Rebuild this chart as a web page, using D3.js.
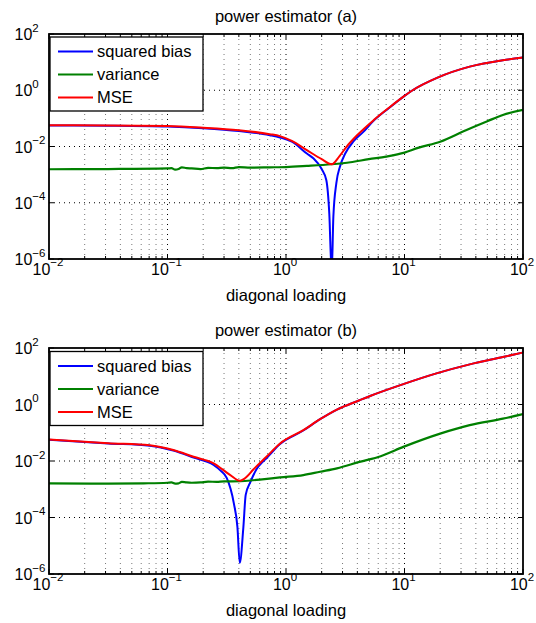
<!DOCTYPE html>
<html>
<head>
<meta charset="utf-8">
<script src="https://cdn.jsdelivr.net/npm/d3@7"></script>
<style>
  body { margin: 0; background: #fff; }
  text { font-family: "Liberation Sans", Arial, Helvetica, sans-serif; fill: #000; }
</style>
</head>
<body>
<script>
// two panels, log-log, squared bias / variance / MSE vs diagonal loading

var seriesNames = ['squared bias', 'variance', 'MSE'];
var seriesColors = ['#0000ff', '#008000', '#ff0000'];
var xTickExps = [-2, -1, 0, 1, 2];
var yTickExps = [-6, -4, -2, 0, 2];

// panel (a)
var loadBiasA = [0.01, 0.0316, 0.1, 0.2, 0.4, 0.73, 0.89, 1.12, 1.5, 1.7, 2.0, 2.19, 2.32, 2.43, 2.51, 2.66, 2.86, 3.16, 3.72, 4.47, 5.5, 7.4, 10, 11.7, 19, 35.5, 67.6, 100];
var biasA = [0.0562, 0.055, 0.0513, 0.0447, 0.0355, 0.0251, 0.0209, 0.0148, 0.00562, 0.0038, 0.00158, 0.00063, 0.0000398, 3.2e-7, 0.0000316, 0.0005, 0.002, 0.00562, 0.0155, 0.0324, 0.0832, 0.234, 0.631, 1.0, 2.82, 6.92, 11.7, 14.5];

var loadVarA = [0.01, 0.0316, 0.1, 0.108, 0.116, 0.124, 0.132, 0.145, 0.16, 0.19, 0.22, 0.26, 0.3, 0.35, 0.4, 0.5, 0.73, 1.0, 1.5, 2.43, 3.5, 5.0, 7.0, 10, 13, 20, 33, 50, 67.6, 100];
var varA = [0.00155, 0.00158, 0.00166, 0.0017, 0.00151, 0.00158, 0.00182, 0.0017, 0.00166, 0.00158, 0.00174, 0.0017, 0.00178, 0.0017, 0.00186, 0.00178, 0.00182, 0.00186, 0.00204, 0.00234, 0.00275, 0.00355, 0.00437, 0.00603, 0.00891, 0.0148, 0.038, 0.0794, 0.132, 0.2];

var loadMseA = [0.01, 0.0316, 0.1, 0.2, 0.4, 0.73, 0.89, 1.12, 1.5, 2.0, 2.43, 2.82, 3.24, 3.98, 5.5, 7.4, 10, 11.7, 19, 35.5, 67.6, 100];
var mseA = [0.0575, 0.0562, 0.0537, 0.0468, 0.038, 0.0275, 0.0234, 0.0158, 0.00741, 0.00355, 0.00234, 0.00447, 0.00977, 0.0251, 0.0871, 0.24, 0.631, 1.0, 2.82, 6.92, 11.7, 14.5];

// panel (b)
var loadBiasB = [0.01, 0.0316, 0.0708, 0.112, 0.166, 0.245, 0.282, 0.316, 0.363, 0.389, 0.407, 0.437, 0.457, 0.5, 0.562, 0.646, 0.684, 0.891, 1.4, 1.94, 2.69, 4.17, 5.13, 9.77, 18.6, 35.5, 67.6, 100];
var biasB = [0.0562, 0.0417, 0.0347, 0.0234, 0.0132, 0.00724, 0.00447, 0.00251, 0.000316, 0.0000468, 0.0000025, 0.0000468, 0.00063, 0.00178, 0.00501, 0.01, 0.0126, 0.0398, 0.12, 0.302, 0.661, 1.41, 2.0, 5.25, 12.6, 26.3, 47.9, 69.2];

var loadVarB = [0.01, 0.0316, 0.063, 0.1, 0.108, 0.116, 0.124, 0.132, 0.145, 0.16, 0.19, 0.22, 0.26, 0.3, 0.35, 0.5, 0.63, 0.89, 1.4, 1.94, 2.69, 4.17, 6.3, 9.77, 20, 35.5, 67.6, 100];
var varB = [0.00162, 0.00158, 0.00162, 0.0017, 0.00174, 0.00158, 0.00162, 0.00182, 0.00174, 0.0017, 0.00174, 0.00186, 0.00182, 0.0019, 0.0019, 0.00204, 0.00224, 0.00263, 0.00316, 0.00417, 0.0055, 0.00933, 0.0148, 0.0316, 0.0933, 0.186, 0.316, 0.457];

var loadMseB = [0.01, 0.0316, 0.0708, 0.112, 0.166, 0.245, 0.339, 0.407, 0.468, 0.525, 0.684, 0.891, 1.4, 1.94, 2.69, 4.17, 5.13, 9.77, 18.6, 35.5, 67.6, 100];
var mseB = [0.0575, 0.0427, 0.0363, 0.0245, 0.0141, 0.00832, 0.00316, 0.002, 0.00282, 0.00479, 0.0141, 0.0417, 0.123, 0.302, 0.661, 1.41, 2.0, 5.25, 12.6, 26.3, 47.9, 69.2];

var WIDTH = 536;
var HEIGHT = 623;
var LEFT = 49, RIGHT = 523;

var svg = d3.select('body').append('svg')
  .attr('width', WIDTH)
  .attr('height', HEIGHT);

var panels = [
  {title: 'power estimator (a)', top: 34, bottom: 259, legendTop: 37,
   data: [[loadBiasA, biasA], [loadVarA, varA], [loadMseA, mseA]]},
  {title: 'power estimator (b)', top: 348, bottom: 574, legendTop: 351.5,
   data: [[loadBiasB, biasB], [loadVarB, varB], [loadMseB, mseB]]}
];

function supLabel(sel, e) {
  sel.append('tspan').text('10');
  sel.append('tspan')
    .attr('dy', -8.5)
    .style('font-size', '11.5px')
    .text(e < 0 ? '\u2212' + (-e) : String(e));
}

panels.forEach(function(p, i) {
  var x = d3.scaleLog().domain([1e-2, 1e2]).range([LEFT, RIGHT]);
  var y = d3.scaleLog().domain([1e-6, 1e2]).range([p.bottom, p.top]);
  var g = svg.append('g');

  // grid
  var xt = x.ticks();
  g.selectAll('.vgrid').data(xt.filter(function(d) { return d > 1e-2 && d < 1e2; }))
    .enter().append('line')
    .attr('x1', function(d) { return x(d); })
    .attr('x2', function(d) { return x(d); })
    .attr('y1', p.top).attr('y2', p.bottom)
    .attr('stroke', function(d) { return Number.isInteger(Math.log10(d)) ? '#000' : '#777'; })
    .attr('stroke-width', 1)
    .attr('stroke-dasharray', '1,4');

  g.selectAll('.hgrid').data(yTickExps.slice(1, -1))
    .enter().append('line')
    .attr('x1', LEFT).attr('x2', RIGHT)
    .attr('y1', function(e) { return y(Math.pow(10, e)); })
    .attr('y2', function(e) { return y(Math.pow(10, e)); })
    .attr('stroke', '#000')
    .attr('stroke-width', 1)
    .attr('stroke-dasharray', '1,4');

  // ticks, inward, all sides
  xt.forEach(function(d) {
    var len = Number.isInteger(Math.log10(d)) ? 5 : 3;
    g.append('line').attr('x1', x(d)).attr('x2', x(d))
      .attr('y1', p.bottom).attr('y2', p.bottom - len).attr('stroke', '#000');
    g.append('line').attr('x1', x(d)).attr('x2', x(d))
      .attr('y1', p.top).attr('y2', p.top + len).attr('stroke', '#000');
  });
  yTickExps.forEach(function(e) {
    var yy = y(Math.pow(10, e));
    g.append('line').attr('x1', LEFT).attr('x2', LEFT + 5)
      .attr('y1', yy).attr('y2', yy).attr('stroke', '#000');
    g.append('line').attr('x1', RIGHT).attr('x2', RIGHT - 5)
      .attr('y1', yy).attr('y2', yy).attr('stroke', '#000');
  });

  // lines
  var clipId = 'clip' + i;
  svg.append('clipPath').attr('id', clipId).append('rect')
    .attr('x', LEFT).attr('y', p.top)
    .attr('width', RIGHT - LEFT).attr('height', p.bottom - p.top);

  var line = d3.line()
    .curve(d3.curveMonotoneX)
    .x(function(d) { return x(d[0]); })
    .y(function(d) { return y(d[1]); });

  p.data.forEach(function(s, k) {
    var pts = s[0].map(function(v, j) { return [v, s[1][j]]; });
    g.append('path')
      .datum(pts)
      .attr('clip-path', 'url(#' + clipId + ')')
      .attr('fill', 'none')
      .attr('stroke', seriesColors[k])
      .attr('stroke-width', k == 1 ? 2.2 : 2)
      .attr('stroke-linejoin', 'round')
      .attr('d', line);
  });

  // box
  g.append('rect')
    .attr('x', LEFT).attr('y', p.top)
    .attr('width', RIGHT - LEFT).attr('height', p.bottom - p.top)
    .attr('fill', 'none')
    .attr('stroke', '#000')
    .attr('stroke-width', 1.8);

  // tick labels
  xTickExps.forEach(function(e) {
    var t = g.append('text')
      .attr('x', x(Math.pow(10, e)) - 1)
      .attr('y', p.bottom + 15.5)
      .attr('text-anchor', 'middle')
      .style('font-size', '16px');
    supLabel(t, e);
  });
  yTickExps.forEach(function(e) {
    var t = g.append('text')
      .attr('x', 14.5)
      .attr('y', y(Math.pow(10, e)) + 6)
      .style('font-size', '16px');
    supLabel(t, e);
  });

  // title and x label
  g.append('text')
    .attr('x', 286).attr('y', p.top - 12)
    .attr('text-anchor', 'middle')
    .style('font-size', '16.5px')
    .text(p.title);
  g.append('text')
    .attr('x', 286).attr('y', p.bottom + 41.5)
    .attr('text-anchor', 'middle')
    .style('font-size', '16.5px')
    .text('diagonal loading');

  // legend
  var lg = g.append('g').attr('transform', 'translate(' + 50 + ',' + p.legendTop + ')');
  lg.append('rect')
    .attr('width', 153).attr('height', 74)
    .attr('fill', '#fff')
    .attr('stroke', '#000')
    .attr('stroke-width', 1.3);
  var rows = [14.5, 37.5, 60.5];
  seriesNames.forEach(function(name, k) {
    lg.append('line')
      .attr('x1', 8).attr('x2', 43)
      .attr('y1', rows[k]).attr('y2', rows[k])
      .attr('stroke', seriesColors[k])
      .attr('stroke-width', 2);
    lg.append('text')
      .attr('x', 47).attr('y', rows[k] + 5.5)
      .style('font-size', '16.5px')
      .text(name);
  });
});
</script>
</body>
</html>
